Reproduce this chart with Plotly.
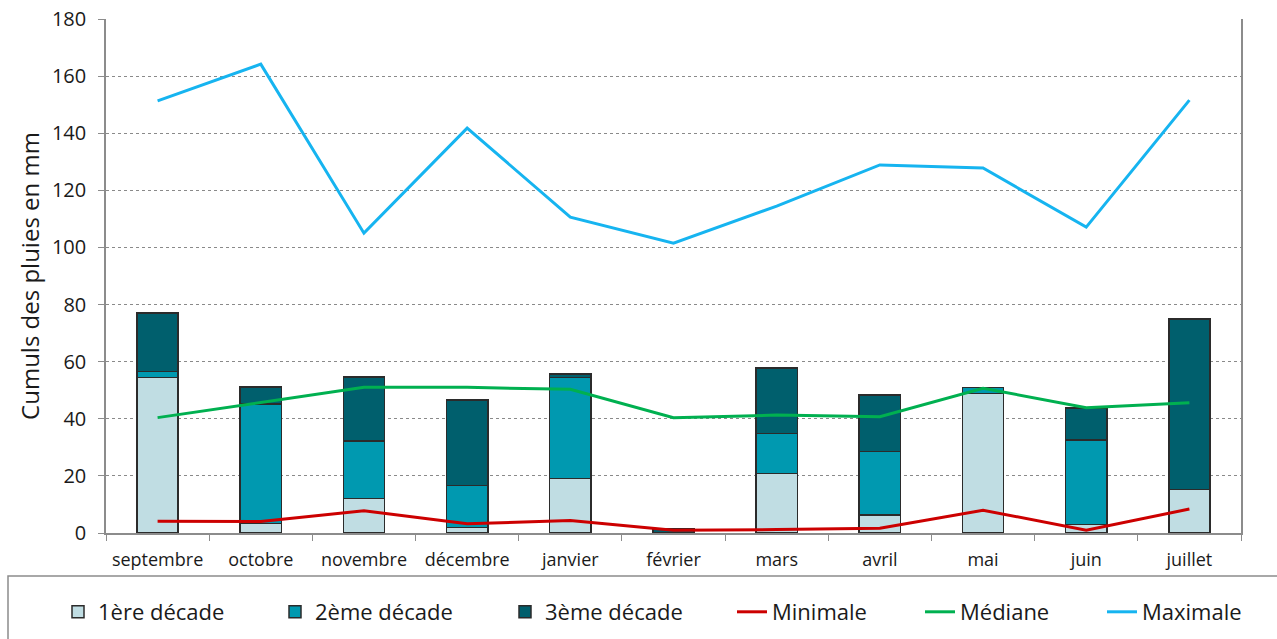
import plotly.graph_objects as go

MONTHS = ["septembre", "octobre", "novembre", "décembre", "janvier", "février",
          "mars", "avril", "mai", "juin", "juillet"]

# rainfall per ten-day period (mm)
DEC1 = [54.5, 3.4, 12.0, 2.0, 19.0, 0.0, 20.9, 6.3, 48.8, 2.9, 15.2]
DEC2 = [2.0, 41.8, 20.2, 14.6, 35.4, 0.0, 13.9, 22.3, 2.2, 29.7, 0.0]
DEC3 = [20.5, 6.0, 22.4, 30.0, 1.2, 1.6, 22.9, 19.8, 0.0, 11.1, 59.8]

MINIMALE = [4.1, 4.0, 7.8, 3.2, 4.4, 1.0, 1.2, 1.7, 8.0, 1.0, 8.4]
MEDIANE = [40.4, 45.7, 51.0, 51.0, 50.3, 40.4, 41.3, 40.7, 50.7, 43.9, 45.6]
MAXIMALE = [151.3, 164.2, 105.0, 141.8, 110.6, 101.5, 114.5, 128.9, 127.8, 107.1, 151.6]

Y_TICKS = [0, 20, 40, 60, 80, 100, 120, 140, 160, 180]

FONT = "Open Sans, Liberation Sans, sans-serif"
EDGE = "#2b2b2b"
W, H = 1277, 639
ML, MR, MT, MB = 106, 36, 19, 106
PLOT_W = W - ML - MR
PLOT_H = H - MT - MB


def px_x(px):
    # page pixel -> paper x
    return (px - ML) / PLOT_W


def px_y(py):
    return (H - MB - py) / PLOT_H


fig = go.Figure()

bar_series = [
    ("1ère décade", DEC1, "#c0dde3"),
    ("2ème décade", DEC2, "#0099b0"),
    ("3ème décade", DEC3, "#005f6d"),
]
line_series = [
    ("Minimale", MINIMALE, "#cc0000"),
    ("Médiane", MEDIANE, "#00b050"),
    ("Maximale", MAXIMALE, "#16b4f0"),
]
# one legend per entry so that spacing follows the original (text start px)
legend_text_x = [98, 315, 545, 772, 960, 1142]

for i, (name, vals, color) in enumerate(bar_series):
    fig.add_trace(go.Bar(
        x=MONTHS, y=vals, name=name, showlegend=True,
        marker=dict(color=color, line=dict(color=EDGE, width=1.5)),
        legend="legend" if i == 0 else f"legend{i + 1}",
    ))

for j, (name, vals, color) in enumerate(line_series):
    fig.add_trace(go.Scatter(
        x=MONTHS, y=vals, name=name, mode="lines", showlegend=True,
        line=dict(color=color, width=3),
        legend=f"legend{j + 4}",
    ))

legends = {}
for k, tx in enumerate(legend_text_x):
    key = "legend" if k == 0 else f"legend{k + 1}"
    legends[key] = dict(
        orientation="h",
        x=px_x(tx - 40), xanchor="left",
        y=px_y(612), yanchor="middle",
        font=dict(size=22), bgcolor="rgba(0,0,0,0)",
    )

fig.update_layout(
    showlegend=True,
    barmode="stack",
    bargap=0.6,
    width=W, height=H,
    plot_bgcolor="white",
    paper_bgcolor="white",
    font=dict(family=FONT, size=16, color="#1a1a1a"),
    margin=dict(l=ML, r=MR, t=MT, b=MB, autoexpand=False),
    shapes=[dict(
        type="rect", xref="paper", yref="paper",
        x0=px_x(8), x1=px_x(1300), y0=px_y(660), y1=px_y(576),
        line=dict(color="#8c8c8c", width=1.5),
        fillcolor="rgba(0,0,0,0)", layer="below",
    )],
    yaxis=dict(
        range=[0, 180], tickvals=Y_TICKS,
        showgrid=True, gridcolor="#8a8a8a", griddash="dot", gridwidth=1,
        showline=True, linecolor="#8c8c8c", linewidth=1.5, mirror=True,
        ticks="outside", ticklen=6, tickcolor="#8c8c8c",
        ticklabelstandoff=8,
        tickfont=dict(size=20),
        title=dict(text="Cumuls des pluies en mm", font=dict(size=24), standoff=6),
        zeroline=False,
    ),
    xaxis=dict(
        type="category",
        showline=True, linecolor="#8c8c8c", linewidth=1.5,
        ticks="outside", ticklen=6, tickcolor="#8c8c8c", tickson="boundaries",
        ticklabelstandoff=10, tickangle=0,
        tickfont=dict(size=18),
        showgrid=False,
    ),
    **legends,
)

fig.write_html(
    "out.html",
    config={"displayModeBar": False},
    post_script="document.body.style.margin='0';",
)
